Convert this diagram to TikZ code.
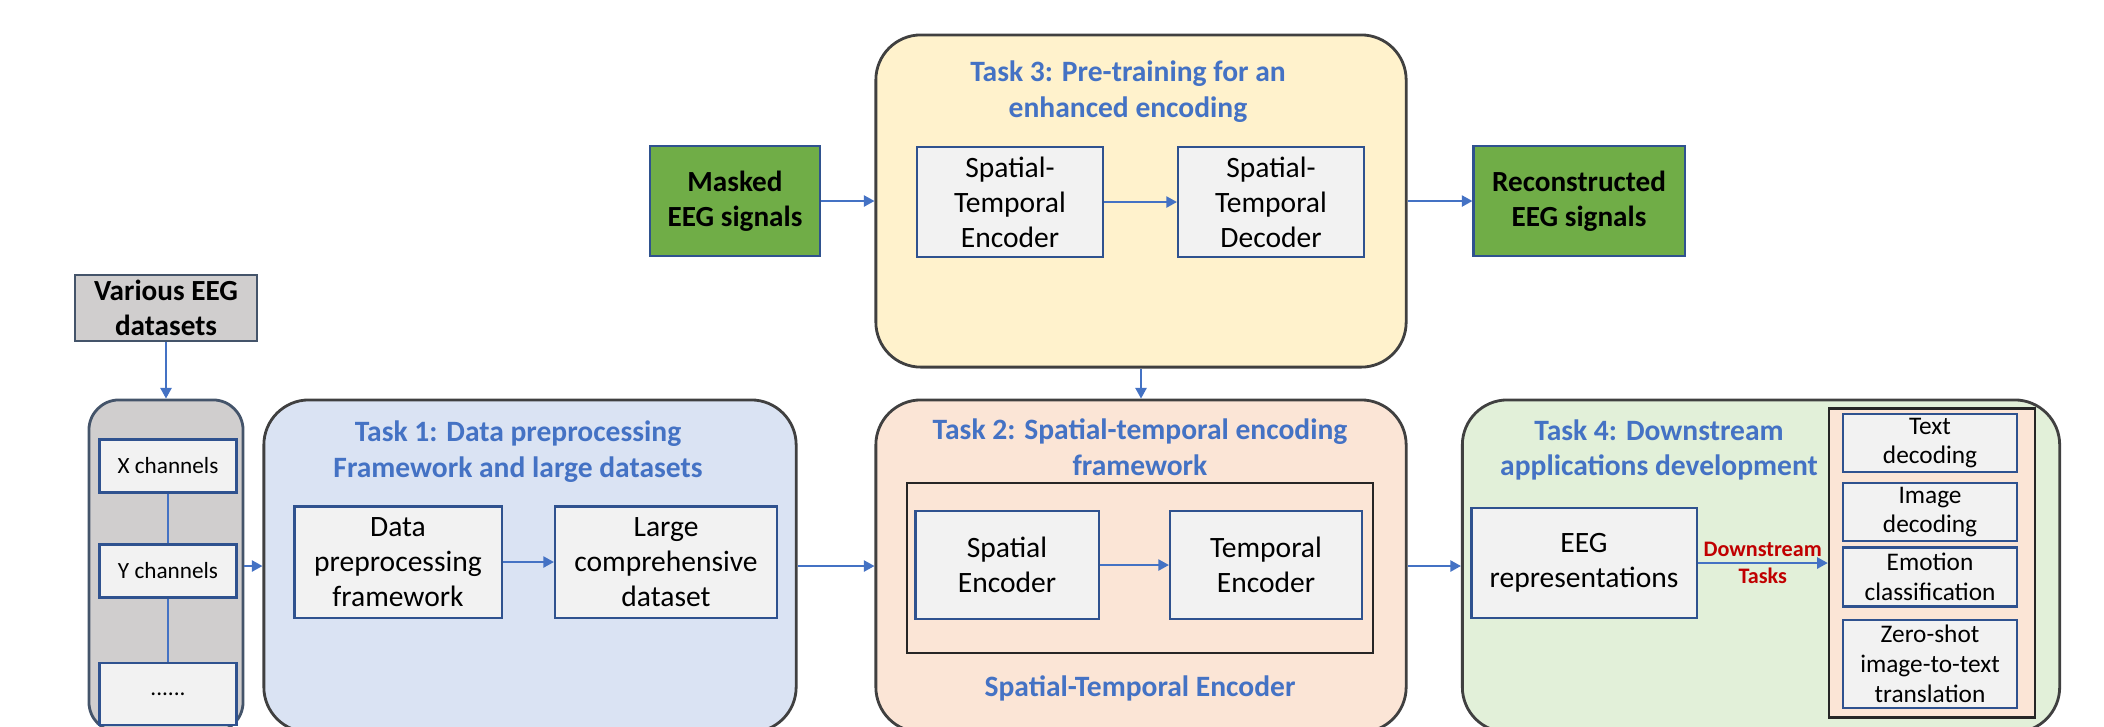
\documentclass[tikz,border=0pt]{standalone}
\usepackage{fontspec}
\setmainfont{Carlito}
\usepackage{tikz}
\usetikzlibrary{arrows.meta}

\definecolor{titleblue}{HTML}{4472C4}
\definecolor{boxblue}{HTML}{2F528F}
\definecolor{boxgray}{HTML}{F2F2F2}
\definecolor{chgray}{HTML}{D0CECE}
\definecolor{chborder}{HTML}{44546A}
\definecolor{taskblue}{HTML}{DAE3F3}
\definecolor{taskyellow}{HTML}{FFF2CC}
\definecolor{taskpeach}{HTML}{FBE5D6}
\definecolor{taskgreen}{HTML}{E2F0D9}
\definecolor{signalgreen}{HTML}{70AD47}
\definecolor{dsred}{HTML}{C00000}

\begin{document}
\begin{tikzpicture}[x=0.01cm,y=-0.01cm,
        >={Triangle[length=3pt,width=3.2pt]},
        every edge/.style={draw=titleblue,line width=0.45pt},
        task/.style={draw=black!75,line width=0.8pt,rounded corners=4.5mm,inner sep=0pt,minimum height=3.32cm},
        box/.style={draw=boxblue,fill=boxgray,line width=0.6pt,align=center,inner sep=1pt,
                    font=\fontsize{8.4}{10}\selectfont},
        chbox/.style={box,font=\fontsize{6.6}{8}\selectfont,minimum width=1.37cm},
        dsitem/.style={box,font=\fontsize{7.2}{8.5}\selectfont,minimum width=1.74cm},
        signal/.style={draw=boxblue,fill=signalgreen,line width=0.6pt,align=center,inner sep=1pt,
                    font=\bfseries\fontsize{8.3}{10}\selectfont,minimum height=1.1cm},
        title/.style={text=titleblue,align=center,font=\bfseries\fontsize{8.4}{10.2}\selectfont},
        dslabel/.style={text=dsred,align=center,font=\bfseries\fontsize{6.3}{7.7}\selectfont}]

        \useasboundingbox (0,0) rectangle (2104,726);

        \node[draw=chborder,fill=chgray,line width=0.6pt,align=center,inner sep=1pt,
              font=\bfseries\fontsize{8.3}{10}\selectfont,minimum width=1.82cm,minimum height=0.66cm]
              (various) at (166,308) {Various EEG\\datasets};
        \node[draw=chborder,fill=chgray,line width=0.8pt,rounded corners=3mm,
              minimum width=1.54cm,minimum height=3.32cm] (grp) at (166,566) {};
        \node[chbox,minimum height=0.53cm] (xch)  at (168,466) {X channels};
        \node[chbox,minimum height=0.53cm] (ych)  at (168,571) {Y channels};
        \node[chbox,minimum height=0.62cm] (dots) at (168,694) {......};

        \node[task,fill=taskblue,minimum width=5.32cm] (t1) at (530,566) {};
        \node[title] (title1) at (518,452) {Task 1: Data preprocessing\\Framework and large datasets};
        \node[box,minimum width=2.07cm,minimum height=1.11cm] (dpf) at (398,562) {Data\\preprocessing\\framework};
        \node[box,minimum width=2.22cm,minimum height=1.11cm] (lcd) at (666,562) {Large\\comprehensive\\dataset};

        \node[task,fill=taskyellow,minimum width=5.30cm] (t3) at (1141,201) {};
        \node[title] (title3) at (1128,92) {Task 3: Pre-training for an\\enhanced encoding};
        \node[box,minimum width=1.86cm,minimum height=1.1cm] (ste) at (1010,202) {Spatial-\\Temporal\\Encoder};
        \node[box,minimum width=1.86cm,minimum height=1.1cm] (std) at (1271,202) {Spatial-\\Temporal\\Decoder};
        \node[signal,minimum width=1.7cm] (masked) at (735,201) {Masked\\EEG signals};
        \node[signal,minimum width=2.11cm] (recon) at (1579,201) {Reconstructed\\EEG signals};

        \node[task,fill=taskpeach,minimum width=5.30cm] (t2) at (1141,566) {};
        \node[title] (title2) at (1140,447) {Task 2: Spatial-temporal encoding\\framework};
        \node[draw=black!85,line width=0.7pt,minimum width=4.66cm,minimum height=1.7cm] (inner) at (1140,568) {};
        \node[box,minimum width=1.83cm,minimum height=1.08cm] (se) at (1007,565) {Spatial\\Encoder};
        \node[box,minimum width=1.92cm,minimum height=1.08cm] (te) at (1266,565) {Temporal\\Encoder};
        \node[title] (stlabel) at (1140,688) {Spatial-Temporal Encoder};

        \node[task,fill=taskgreen,minimum width=5.97cm] (t4) at (1761,566) {};
        \node[title] (title4) at (1659,450) {Task 4: Downstream\\applications development};
        \node[box,minimum width=2.25cm,minimum height=1.1cm] (eeg) at (1584,563) {EEG\\representations};
        \node[draw=black!85,fill=taskpeach,line width=0.7pt,minimum width=2.06cm,minimum height=3.09cm] (dsbox) at (1932,563) {};
        \node[dsitem,minimum height=0.57cm] (td) at (1930,443) {Text\\decoding};
        \node[dsitem,minimum height=0.54cm] (id) at (1930,512) {Image\\decoding};
        \node[dsitem,minimum height=0.59cm] (ec) at (1930,577) {Emotion\\classification};
        \node[dsitem,minimum height=0.88cm] (zs) at (1930,664) {Zero-shot\\image-to-text\\translation};

        \path[->]
                  (various) edge (grp)
                  (xch)     edge [-] (ych)
                  (ych)     edge [-] (dots)
                  (grp)     edge (t1)
                  (dpf)     edge (lcd)
                  (t1)      edge (t2)

                  (masked)  edge (t3)
                  (ste)     edge (std)
                  (t3)      edge (recon)
                  (t3)      edge (t2)

                  (se)      edge (te)
                  (t2)      edge (t4)
                  (eeg)     edge node[dslabel]{Downstream\\Tasks} (dsbox);
\end{tikzpicture}
\end{document}
